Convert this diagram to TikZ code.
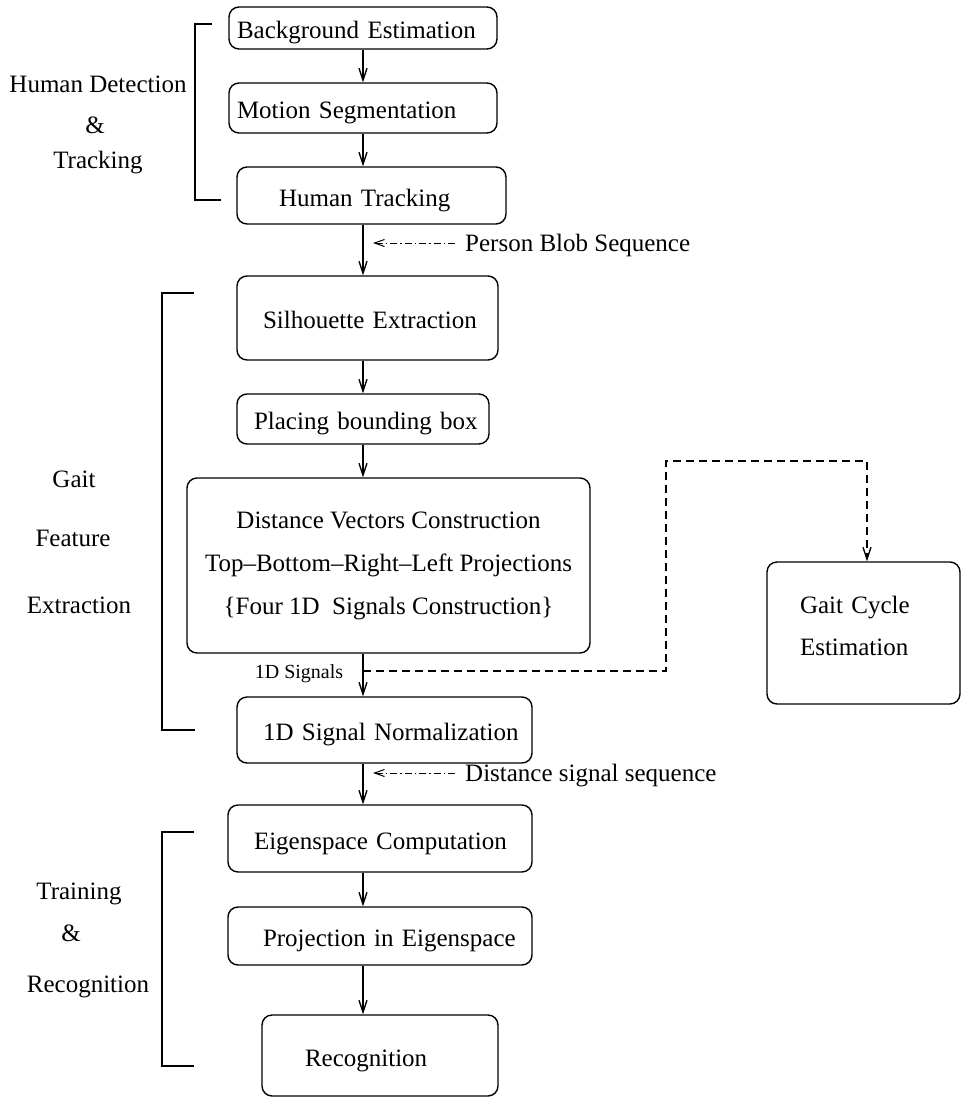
\documentclass[tikz,border=0pt]{standalone}
\usepackage{fontspec}
\setmainfont{Liberation Serif}
\usetikzlibrary{arrows.meta,calc}
\begin{document}
\begin{tikzpicture}[x=1pt,y=-1pt,
  box/.style={draw, line width=1.4pt, rounded corners=10pt, inner sep=0pt, font=\fontsize{25}{30}\selectfont},
  sbox/.style={box, align=left, text width=#1, text height=21pt, text depth=0pt},
  lab/.style={font=\fontsize{25}{30}\selectfont, anchor=base, inner sep=0pt},
  arr/.style={line width=1.3pt, -{Straight Barb[length=12pt,width=8pt]}},
  ddarr/.style={line width=1pt, dash pattern=on 7pt off 3pt on 1.5pt off 3pt, -{Straight Barb[length=10pt,width=7pt]}},
  dsh/.style={line width=1.3pt, dash pattern=on 8pt off 5pt, -{Straight Barb[length=12pt,width=8pt]}},
  brk/.style={line width=1.4pt}]
\useasboundingbox (0,0) rectangle (962,1098);

% boxes
\node[sbox=268pt, minimum height=42pt] (be) at (363,28) {\hspace*{8pt}Background Estimation};
\node[sbox=268pt, minimum height=50pt] (ms) at (363,108) {\hspace*{8pt}Motion Segmentation};
\node[sbox=269pt, minimum height=57pt] (ht) at (371.5,195.5) {\hspace*{42pt}Human Tracking};
\node[sbox=261pt, minimum height=84pt] (se) at (367.5,318) {\hspace*{26pt}Silhouette Extraction};
\node[sbox=252pt, minimum height=50pt] (pl) at (363,419) {\hspace*{17pt}Placing bounding box};
\node[box, minimum width=403pt, minimum height=175pt, align=center, font=\fontsize{25}{43}\selectfont] (dv) at (388.5,565.5)
  {Distance Vectors Construction\\Top–Bottom–Right–Left Projections\\\{Four 1D~~Signals Construction\}};
\node[sbox=295pt, minimum height=66pt] (nm) at (384.5,730) {\hspace*{26pt}1D Signal Normalization};
\node[sbox=304pt, minimum height=67pt] (ec) at (380,838.5) {\hspace*{26pt}Eigenspace Computation};
\node[sbox=304pt, minimum height=58pt] (pe) at (380,936) {\hspace*{35pt}Projection in Eigenspace};
\node[sbox=236pt, minimum height=81pt] (rc) at (380,1055.5) {\hspace*{43pt}Recognition};
\node[box, text width=127pt, inner xsep=33pt, minimum height=142pt, align=left, font=\fontsize{25}{42}\selectfont] (gc) at (863.5,633)
  {Gait Cycle\\Estimation\rule[-15pt]{0pt}{15pt}};

% side labels
\node[lab] (l1) at (98,92) {Human Detection};
\node[lab] (l2) at (95,133) {\&};
\node[lab] (l3) at (98,168) {Tracking};
\node[lab] (l4) at (74,487) {Gait};
\node[lab] (l5) at (73,546) {Feature};
\node[lab] (l6) at (79,613) {Extraction};
\node[lab] (l7) at (79,899) {Training};
\node[lab] (l8) at (71,941) {\&};
\node[lab] (l9) at (88,992) {Recognition};

% brackets
\draw[brk] (212,24) -- (195,24) -- (195,200) -- (221,200);
\draw[brk] (194,293) -- (162,293) -- (162,730) -- (195,730);
\draw[brk] (194,832) -- (162,832) -- (162,1066) -- (194,1066);

% main flow
\coordinate (spine) at (363,0);
\coordinate (tipx) at (373,0);
\draw[arr] (be.south -| spine) -- (ms.north -| spine);
\draw[arr] (ms.south -| spine) -- (ht.north -| spine);
\draw[arr] (ht.south -| spine) -- (se.north -| spine);
\draw[arr] (se.south -| spine) -- (pl.north -| spine);
\draw[arr] (pl.south -| spine) -- (dv.north -| spine);
\draw[arr] (dv.south -| spine) -- (nm.north -| spine);
\draw[arr] (nm.south -| spine) -- (ec.north -| spine);
\draw[arr] (ec.south -| spine) -- (pe.north -| spine);
\draw[arr] (pe.south -| spine) -- (rc.north -| spine);

% annotations
\node[lab, anchor=base west] (pbl) at (465,251) {Person Blob Sequence};
\draw[ddarr] ($(pbl.base west)+(-10,-8)$) -- ($(pbl.base west -| tipx)+(0,-8)$);
\node[lab, anchor=base west] (dsl) at (465,781) {Distance signal sequence};
\draw[ddarr] ($(dsl.base west)+(-10,-8)$) -- ($(dsl.base west -| tipx)+(0,-8)$);
\node[lab, font=\fontsize{20}{24}\selectfont] (sig) at (299,678) {1D Signals};

% gait cycle branch
\coordinate (tap) at (363,671);
\coordinate (d1) at (666,461);
\coordinate (d2) at (867,461);
\draw[dsh] (tap) -| (d1) -- (d2) -- (gc.north -| d2);
\end{tikzpicture}
\end{document}
